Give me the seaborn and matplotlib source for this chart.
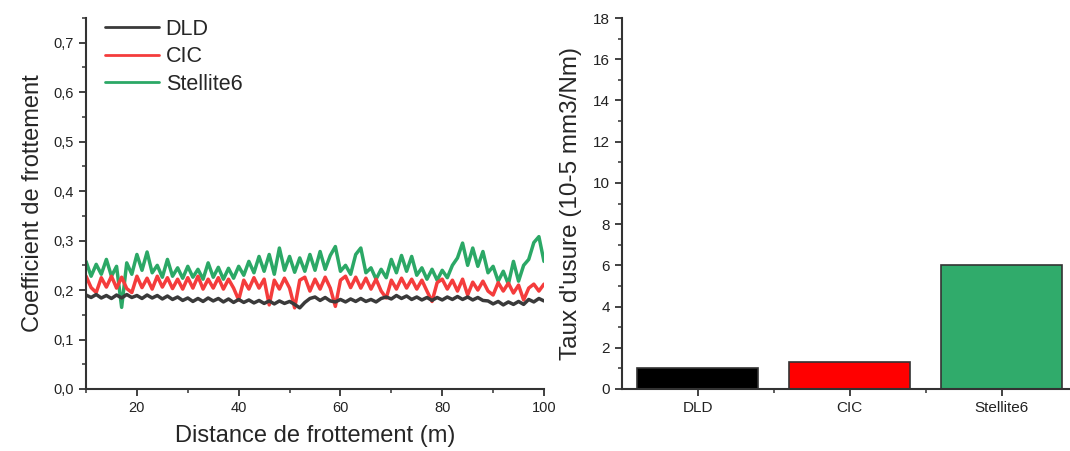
import numpy as np
import pandas as pd
import matplotlib
matplotlib.use("Agg")
import matplotlib.pyplot as plt
import seaborn as sns
from matplotlib.ticker import MultipleLocator, FixedLocator, FuncFormatter

# friction coefficient vs sliding distance (1 m steps)
distance = list(range(10, 101))

cof_dld = [
    0.190, 0.185, 0.191, 0.184, 0.189, 0.183, 0.190, 0.184, 0.191, 0.185,
    0.189, 0.183, 0.190, 0.184, 0.189, 0.182, 0.188, 0.181, 0.186, 0.179,
    0.184, 0.177, 0.183, 0.177, 0.184, 0.178, 0.183, 0.176, 0.182, 0.175,
    0.181, 0.175, 0.180, 0.174, 0.179, 0.173, 0.178, 0.172, 0.178, 0.173,
    0.177, 0.171, 0.164, 0.175, 0.183, 0.186, 0.179, 0.185, 0.178, 0.176,
    0.181, 0.176, 0.182, 0.177, 0.183, 0.177, 0.181, 0.176, 0.183, 0.186,
    0.182, 0.189, 0.183, 0.188, 0.181, 0.186, 0.180, 0.185, 0.179, 0.185,
    0.180, 0.186, 0.181, 0.187, 0.181, 0.186, 0.180, 0.185, 0.179, 0.178,
    0.172, 0.177, 0.170, 0.176, 0.171, 0.177, 0.171, 0.181, 0.176, 0.183,
    0.178,
]

cof_cic = [
    0.228, 0.205, 0.195, 0.225, 0.206, 0.228, 0.204, 0.226, 0.203, 0.195,
    0.228, 0.205, 0.224, 0.202, 0.228, 0.206, 0.225, 0.203, 0.222, 0.202,
    0.225, 0.204, 0.228, 0.202, 0.222, 0.204, 0.225, 0.202, 0.222, 0.204,
    0.180, 0.220, 0.202, 0.225, 0.204, 0.222, 0.170, 0.220, 0.202, 0.224,
    0.204, 0.164, 0.220, 0.226, 0.198, 0.222, 0.202, 0.226, 0.204, 0.167,
    0.220, 0.228, 0.205, 0.226, 0.204, 0.224, 0.202, 0.222, 0.198, 0.184,
    0.220, 0.202, 0.224, 0.204, 0.222, 0.202, 0.220, 0.198, 0.177, 0.215,
    0.222, 0.202, 0.220, 0.198, 0.222, 0.190, 0.216, 0.200, 0.218, 0.198,
    0.190, 0.215, 0.198, 0.214, 0.194, 0.210, 0.180, 0.204, 0.212, 0.198,
    0.212,
]

cof_stellite = [
    0.258, 0.228, 0.252, 0.232, 0.262, 0.228, 0.248, 0.165, 0.255, 0.232,
    0.272, 0.240, 0.277, 0.235, 0.250, 0.226, 0.262, 0.228, 0.245, 0.224,
    0.248, 0.226, 0.242, 0.222, 0.255, 0.226, 0.246, 0.222, 0.244, 0.224,
    0.248, 0.230, 0.258, 0.235, 0.268, 0.238, 0.272, 0.232, 0.285, 0.240,
    0.268, 0.236, 0.265, 0.238, 0.272, 0.240, 0.278, 0.242, 0.270, 0.288,
    0.238, 0.250, 0.232, 0.272, 0.285, 0.235, 0.245, 0.222, 0.242, 0.225,
    0.262, 0.235, 0.270, 0.238, 0.268, 0.230, 0.245, 0.222, 0.242, 0.220,
    0.240, 0.225, 0.250, 0.265, 0.295, 0.250, 0.285, 0.248, 0.278, 0.235,
    0.248, 0.218, 0.238, 0.212, 0.258, 0.218, 0.250, 0.262, 0.296, 0.308,
    0.258,
]

# wear rate bars
materials = ["DLD", "CIC", "Stellite6"]
wear_rate = [1.0, 1.3, 6.0]

LINE_COLORS = {"DLD": "#3a3a3a", "CIC": "#f43c3c", "Stellite6": "#2ba866"}
BAR_COLORS = {"DLD": "#000000", "CIC": "#ff0000", "Stellite6": "#30ab6b"}
AX_COLOR = "#333333"

sns.set_style("ticks")
plt.rcParams["font.family"] = ["Liberation Sans", "DejaVu Sans"]

fig = plt.figure(figsize=(10.7, 4.51), dpi=100)
ax1 = fig.add_axes([0.0804, 0.1375, 0.428, 0.8225])
ax2 = fig.add_axes([0.581, 0.1375, 0.419, 0.8225])

# ---- left: friction curves ----
df = pd.DataFrame({
    "distance": distance * 3,
    "cof": cof_stellite + cof_cic + cof_dld,
    "mat": ["Stellite6"] * len(distance) + ["CIC"] * len(distance) + ["DLD"] * len(distance),
})
# green drawn first, black on top
for mat in ["Stellite6", "CIC", "DLD"]:
    sub = df[df["mat"] == mat]
    sns.lineplot(data=sub, x="distance", y="cof", color=LINE_COLORS[mat],
                 linewidth=2.5, label=mat, ax=ax1)

handles, labels = ax1.get_legend_handles_labels()
order = [labels.index(m) for m in materials]
leg = ax1.legend([handles[i] for i in order], [labels[i] for i in order],
                 loc="upper left", bbox_to_anchor=(0.0, 1.05), frameon=False,
                 fontsize=15.5, handlelength=2.5, handletextpad=0.3, labelspacing=0.3)
for h in leg.get_lines():
    h.set_linewidth(2)

ax1.set_xlim(10, 100)
ax1.set_ylim(0, 0.75)
ax1.xaxis.set_major_locator(FixedLocator([20, 40, 60, 80, 100]))
ax1.xaxis.set_minor_locator(MultipleLocator(10))
ax1.yaxis.set_major_locator(FixedLocator([0, 0.1, 0.2, 0.3, 0.4, 0.5, 0.6, 0.7]))
ax1.yaxis.set_minor_locator(MultipleLocator(0.05))
ax1.yaxis.set_major_formatter(FuncFormatter(lambda v, p: f"{v:.1f}".replace(".", ",")))
ax1.set_xlabel("Distance de frottement (m)", fontsize=17, labelpad=7)
ax1.set_ylabel("Coefficient de frottement", fontsize=17, labelpad=7)

# ---- right: wear rate bars ----
sns.barplot(x=materials, y=wear_rate, hue=materials, palette=BAR_COLORS,
            legend=False, width=0.8, edgecolor=AX_COLOR, linewidth=1.2,
            saturation=1, ax=ax2)
ax2.set_xlim(-0.5, 2.45)
ax2.set_ylim(0, 18)
ax2.yaxis.set_major_locator(MultipleLocator(2))
ax2.yaxis.set_minor_locator(MultipleLocator(1))
ax2.xaxis.set_minor_locator(FixedLocator([0.5, 1.5]))
ax2.set_ylabel("Taux d'usure (10-5 mm3/Nm)", fontsize=17.5, labelpad=8)
ax2.set_xlabel("")

for ax, lsize in ((ax1, 10.5), (ax2, 11)):
    sns.despine(ax=ax)
    for s in ("left", "bottom"):
        ax.spines[s].set_color(AX_COLOR)
        ax.spines[s].set_linewidth(1.5)
    ax.tick_params(which="major", direction="out", length=5, width=1.3,
                   color=AX_COLOR, labelsize=lsize, labelcolor="#222222")
    ax.tick_params(which="minor", direction="out", length=3, width=1.1,
                   color=AX_COLOR)

fig.savefig("out.png", dpi=100)
